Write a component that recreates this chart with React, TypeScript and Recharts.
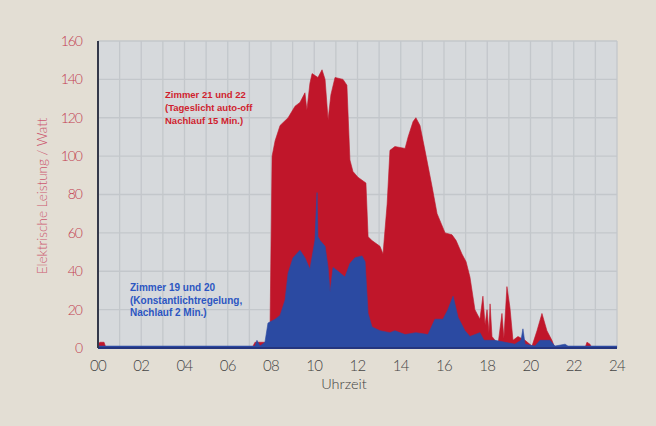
import { AreaChart, Area, XAxis, YAxis, CartesianGrid } from 'recharts';

// Tagesverlauf der elektrischen Leistung, zwei Raumpaare
const hourTicks = [0, 2, 4, 6, 8, 10, 12, 14, 16, 18, 20, 22, 24];
const gridHours = Array.from({ length: 25 }, (_, i) => i);
const wattTicks = [0, 20, 40, 60, 80, 100, 120, 140, 160];

// Zimmer 21 und 22 (Tageslicht auto-off, Nachlauf 15 Min.)
const room2122Hours = [
  0, 0.09, 0.28, 0.37, 7.12, 7.26, 7.77, 7.95, 8.05, 8.19, 8.42, 8.79, 9.11, 9.34, 9.57, 9.66,
  9.8, 9.9, 10.17, 10.36, 10.5, 10.64, 10.77, 10.96, 11.33, 11.51, 11.65, 11.79, 12.02, 12.39,
  12.49, 12.67, 13.04, 13.18, 13.37, 13.5, 13.73, 14.2, 14.34, 14.57, 14.7, 14.89, 15.12, 15.45,
  15.68, 16.05, 16.37, 16.56, 16.83, 17.02, 17.2, 17.43, 17.66, 17.8, 17.9, 17.99, 18.08, 18.13,
  18.22, 18.5, 18.68, 18.77, 18.91, 19.05, 19.19, 19.42, 19.75, 20.07, 20.3, 20.53, 20.76,
  20.99, 21.13, 22.52, 22.61, 22.75, 22.84, 24,
];
const room2122Watts = [
  2, 3, 3, 0, 0, 3, 3, 5, 100, 108, 116, 120, 126, 128, 133, 124,
  138, 143, 141, 145, 140, 119, 132, 141, 140, 137, 98, 92, 89, 86,
  58, 56, 53, 49, 75, 103, 105, 104, 110, 118, 120, 116, 103, 84,
  70, 60, 59, 56, 49, 45, 37, 20, 15, 27, 12, 20, 8, 23,
  6, 2, 18, 5, 32, 21, 4, 6, 4, 1, 9, 18, 9,
  4, 0, 0, 3, 2, 0, 0,
];

// Zimmer 19 und 20 (Konstantlichtregelung, Nachlauf 2 Min.)
const room1920Hours = [
  0, 7.26, 7.35, 7.49, 7.72, 7.86, 8.19, 8.42, 8.65, 8.79, 9.02, 9.34, 9.57, 9.8, 10.03, 10.13,
  10.17, 10.27, 10.5, 10.64, 10.73, 10.87, 11.1, 11.42, 11.65, 11.88, 12.21, 12.35, 12.49,
  12.67, 13.04, 13.5, 13.73, 14.2, 14.7, 15.26, 15.58, 15.95, 16.18, 16.42, 16.65, 16.97, 17.2,
  17.66, 17.85, 18.36, 18.82, 19.28, 19.56, 19.65, 19.75, 20.21, 20.44, 20.9, 21.13, 21.6,
  21.73, 24,
];
const room1920Watts = [
  1, 1, 4, 1, 3, 13, 15, 17, 25, 39, 47, 51, 47, 41, 56, 81,
  58, 56, 53, 42, 29, 42, 40, 37, 44, 47, 48, 45, 18,
  11, 9, 8, 9, 7, 8, 7, 15, 15, 20, 27, 16, 9, 6,
  8, 4, 4, 3, 2, 4, 10, 2, 1, 4, 4, 1, 2,
  1, 1,
];

const toSeries = (hours: number[], watts: number[]) =>
  hours.map((h, i) => ({ h, w: watts[i] }));

const room2122 = toSeries(room2122Hours, room2122Watts);
const room1920 = toSeries(room1920Hours, room1920Watts);

const RED = '#c0162a';
const BLUE = '#2b4aa2';
const TICK_FONT = 'Lato, "Open Sans", sans-serif';

export default function App() {
  return (
    <div
      style={{
        position: 'absolute',
        left: 0,
        top: 0,
        width: 656,
        height: 426,
        background: '#e3ded4',
        overflow: 'hidden',
      }}
    >
      <AreaChart
        width={656}
        height={426}
        margin={{ top: 41, right: 39, left: 58, bottom: 48 }}
      >
        <CartesianGrid
          fill="#d6d9dc"
          stroke="#c3c7cb"
          strokeWidth={1.3}
          verticalCoordinatesGenerator={({ offset }: any) =>
            gridHours.map((h) => offset.left + (h / 24) * offset.width)
          }
        />
        <Area
          data={room2122}
          dataKey="w"
          type="linear"
          fill={RED}
          fillOpacity={1}
          stroke={RED}
          strokeWidth={0.6}
          isAnimationActive={false}
        />
        <Area
          data={room1920}
          dataKey="w"
          type="linear"
          fill={BLUE}
          fillOpacity={1}
          stroke={BLUE}
          strokeWidth={0.6}
          isAnimationActive={false}
        />
        <XAxis
          dataKey="h"
          type="number"
          domain={[0, 24]}
          ticks={hourTicks}
          allowDataOverflow
          tickFormatter={(v: number) => String(v).padStart(2, '0')}
          tickLine={false}
          tickMargin={6}
          height={30}
          axisLine={{ stroke: '#24357e', strokeWidth: 2 }}
          tick={{
            fill: '#454545',
            fontSize: 15,
            fontFamily: TICK_FONT,
            fontWeight: 300,
            letterSpacing: -0.8,
          }}
        />
        <XAxis
          xAxisId="top"
          orientation="top"
          dataKey="h"
          type="number"
          domain={[0, 24]}
          height={0}
          tick={false}
          tickLine={false}
          axisLine={{ stroke: '#55585c', strokeWidth: 1.5 }}
        />
        <YAxis
          type="number"
          domain={[0, 160]}
          ticks={wattTicks}
          width={40}
          tickLine={false}
          tickMargin={10}
          axisLine={{ stroke: '#34384a', strokeWidth: 2 }}
          tick={{
            fill: '#c23d50',
            fontSize: 14,
            fontFamily: TICK_FONT,
            fontWeight: 300,
            letterSpacing: -1,
          }}
        />
        <YAxis
          yAxisId="right"
          orientation="right"
          domain={[0, 160]}
          width={0}
          tick={false}
          tickLine={false}
          axisLine={{ stroke: '#55585c', strokeWidth: 2 }}
        />
      </AreaChart>

      <div
        style={{
          position: 'absolute',
          left: 42,
          top: 196,
          transform: 'translate(-50%, -50%) rotate(-90deg)',
          whiteSpace: 'nowrap',
          color: '#cc5870',
          fontFamily: TICK_FONT,
          fontSize: 13.5,
          fontWeight: 300,
        }}
      >
        Elektrische Leistung / Watt
      </div>
      <div
        style={{
          position: 'absolute',
          left: 344,
          top: 383,
          transform: 'translate(-50%, -50%)',
          color: '#404040',
          fontFamily: TICK_FONT,
          fontSize: 14.5,
          fontWeight: 300,
        }}
      >
        Uhrzeit
      </div>

      <div
        style={{
          position: 'absolute',
          left: 165,
          top: 88,
          color: '#d01e2e',
          fontFamily: '"Liberation Sans", Arial, sans-serif',
          fontSize: 9.5,
          fontWeight: 700,
          lineHeight: '13px',
          whiteSpace: 'pre',
        }}
      >
        {'Zimmer 21 und 22\n(Tageslicht auto-off\nNachlauf 15 Min.)'}
      </div>
      <div
        style={{
          position: 'absolute',
          left: 130,
          top: 282,
          color: '#2c56c2',
          fontFamily: '"Liberation Sans", Arial, sans-serif',
          fontSize: 10,
          fontWeight: 700,
          lineHeight: '12.5px',
          whiteSpace: 'pre',
        }}
      >
        {'Zimmer 19 und 20\n(Konstantlichtregelung,\nNachlauf 2 Min.)'}
      </div>
    </div>
  );
}
